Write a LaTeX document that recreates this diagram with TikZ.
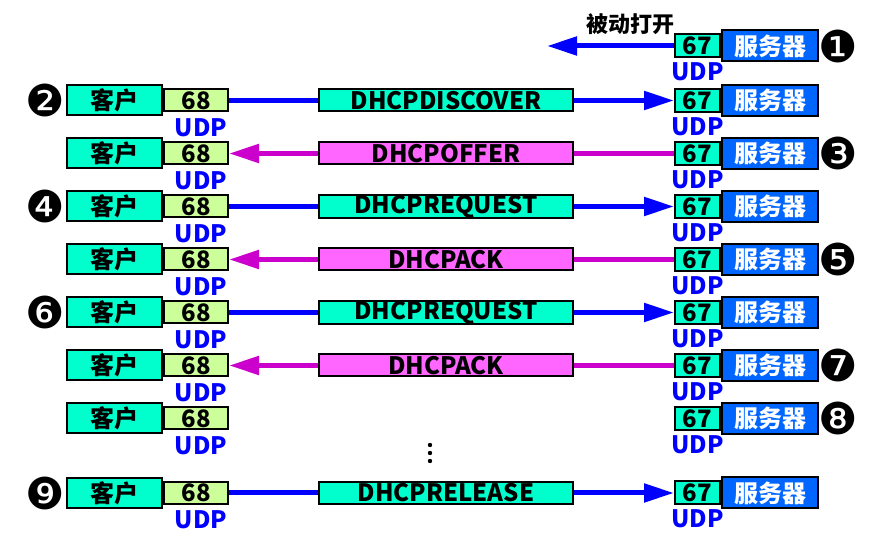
\documentclass[tikz,border=0pt]{standalone}
\usepackage{fontspec}
\setmainfont{Noto Sans CJK SC}
\newfontfamily\dejavu{DejaVu Sans}
\usetikzlibrary{arrows.meta}
\usetikzlibrary{positioning}

\definecolor{msggreen}{RGB}{0,255,204}
\definecolor{portgreen}{RGB}{204,255,153}
\definecolor{msgpink}{RGB}{255,102,255}
\definecolor{arrowpink}{RGB}{204,0,204}
\definecolor{srvblue}{RGB}{0,102,255}

\tikzset{
  box/.style={draw=black, line width=1pt, inner sep=0pt, font=\bfseries\fontsize{12}{12}\selectfont},
  client/.style={box, fill=msggreen, minimum width=47.5pt, minimum height=15pt},
  cport/.style={box, fill=portgreen, minimum width=32pt, minimum height=11pt},
  sport/.style={box, fill=msggreen, minimum width=22.5pt, minimum height=11.5pt},
  server/.style={box, fill=srvblue, text=white, minimum width=48pt, minimum height=15.5pt},
  msg/.style={box, fill=#1, minimum width=127pt, minimum height=11pt},
  udp/.style={text=blue, font=\bfseries\fontsize{12}{12}\selectfont, inner sep=0pt},
  num/.style={font=\dejavu\fontsize{22}{22}\selectfont, inner sep=0pt},
  wire/.style={line width=2.5pt, draw=#1},
  tip/.style={-{Triangle[length=15pt,width=9pt]}},
}

\begin{document}
\begin{tikzpicture}[x=0.5pt, y=-0.5pt]
  \useasboundingbox (0,0) rectangle (884,549);

  \def\xc{114.5};
  \def\xm{446};
  \def\xs{697.5};

  % server only, passive open
  \node[sport] (sp1) at (\xs,46) {67};
  \node[server, right=0pt of sp1] (sv1) {服务器};
  \node[udp] (u1) at (\xs,72) {UDP};
  \node[num] (n1) at (838,46) {❶};
  \coordinate (open) at (547,46);
  \draw[wire=blue, tip] (sp1) -- (open);
  \node[font=\bfseries\fontsize{11}{11}\selectfont] (passive) at (630,24) {被动打开};

  % client and server on every row
  \foreach \r/\y in {2/100.5, 3/153.5, 4/206.5, 5/259.5, 6/312.5, 7/365.5, 8/418.5, 9/493}{
    \node[client] (cl\r) at (\xc,\y) {客户};
    \node[cport, right=0pt of cl\r] (cp\r) {68};
    \node[udp] (cu\r) at (201,\y+27) {UDP};
    \node[sport] (sp\r) at (\xs,\y) {67};
    \node[server, right=0pt of sp\r] (sv\r) {服务器};
    \node[udp] (su\r) at (\xs,\y+26) {UDP};
  }

  % client to server
  \foreach \r/\y/\msg in {2/100.5/DHCPDISCOVER, 4/206.5/DHCPREQUEST, 6/312.5/DHCPREQUEST, 9/493/DHCPRELEASE}{
    \node[msg=msggreen] (m\r) at (\xm,\y) {\msg};
    \draw[wire=blue] (cp\r) -- (m\r);
    \draw[wire=blue, tip] (m\r) -- (sp\r);
  }

  % server to client
  \foreach \r/\y/\msg in {3/153.5/DHCPOFFER, 5/259.5/DHCPACK, 7/365.5/DHCPACK}{
    \node[msg=msgpink] (m\r) at (\xm,\y) {\msg};
    \draw[wire=arrowpink] (sp\r) -- (m\r);
    \draw[wire=arrowpink, tip] (m\r) -- (cp\r);
  }

  \foreach \r/\x/\y/\sym in {2/45/100.5/❷, 3/838/153.5/❸, 4/45/206.5/❹, 5/838/259.5/❺,
                             6/45/312.5/❻, 7/838/365.5/❼, 8/838/418.5/❽, 9/45/493/❾}{
    \node[num] (n\r) at (\x,\y) {\sym};
  }

  % gap between row 8 and 9
  \foreach \k in {-1,0,1}
    \fill (430,453+\k*8) circle (1.1pt);
\end{tikzpicture}
\end{document}
